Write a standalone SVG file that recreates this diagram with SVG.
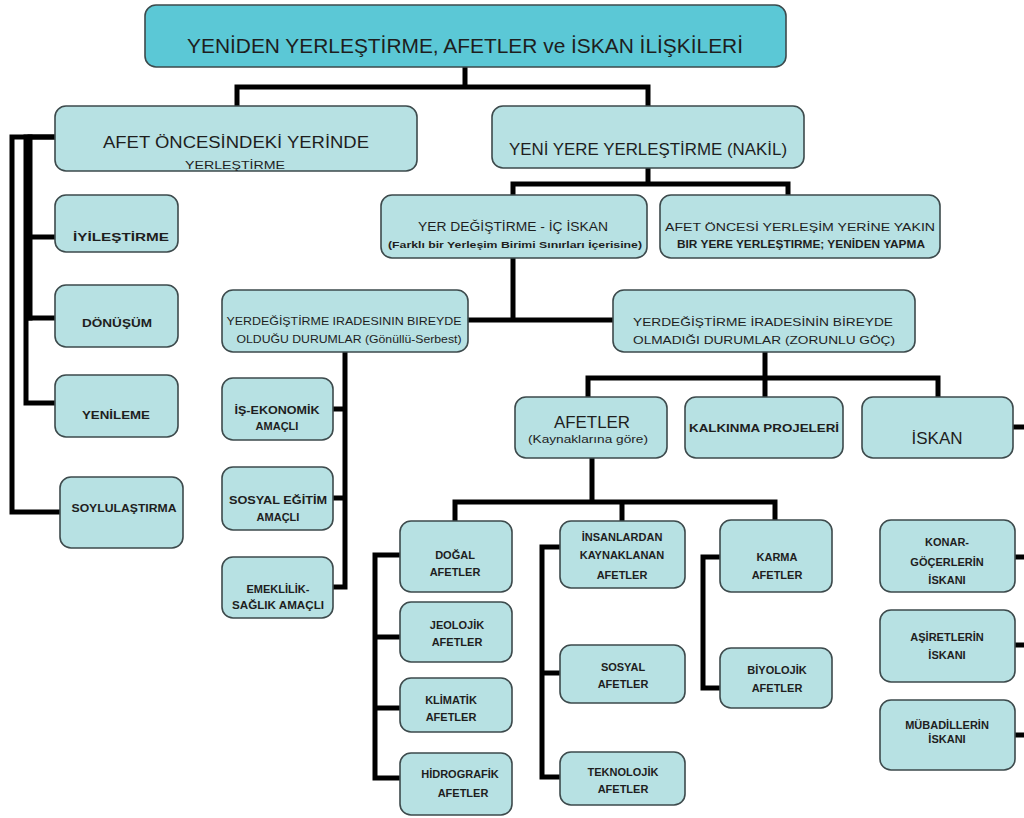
<svg xmlns="http://www.w3.org/2000/svg" width="1024" height="818" viewBox="0 0 1024 818">
<style>
.n{fill:#b7e1e3;stroke:#3d4a4c;stroke-width:1.6}
.t{fill:#5bc8d6;stroke:#3d4a4c;stroke-width:1.6}
text{font-family:"Liberation Sans",Arial,sans-serif;fill:#1e1e1e;text-anchor:middle}
.s{font-size:11px;font-weight:bold}
.m{font-size:11.5px}
.l{font-size:16px}
.c{fill:none;stroke:#000;stroke-width:5;stroke-linejoin:miter;stroke-linecap:square}
</style>
<rect width="1024" height="818" fill="#fff"/>
<g id="connectors" class="c">
<path d="M465 68V87H237V106M465 87H648V106"/>
<path d="M648 168V184H513V195M648 184H788V195"/>
<path d="M55 137H12V512H60"/>
<path d="M55 137H26V403H55M26 237H55M26 318H55"/>
<path d="M30 137V318"/>
<path d="M513 258V320H468M513 320H613"/>
<path d="M345 352V587H334M345 409H334M345 498H334"/>
<path d="M765 352V378H588V397M765 378V397M765 378H938V397"/>
<path d="M1013 427H1024"/>
<path d="M592 459V502H455V521M592 502H622V521M592 502H775V521"/>
<path d="M400 555H375V778H400M375 637H400M375 708H400"/>
<path d="M560 547H542V777H560M542 673H560"/>
<path d="M720 557H703V688H720"/>
<path d="M1015 557H1024M1015 645H1024M1015 735H1024"/>
</g>
<g id="title"><rect class="t" x="145" y="5" width="641" height="62" rx="11"/><text x="465" y="53" style="font-size:19.5px" textLength="556" lengthAdjust="spacingAndGlyphs">YENİDEN YERLEŞTİRME, AFETLER ve İSKAN İLİŞKİLERİ</text></g>
<g id="yerinde"><rect class="n" x="55" y="106" width="362" height="65" rx="11"/><text class="l" x="236" y="148" textLength="266" lengthAdjust="spacingAndGlyphs">AFET  ÖNCESİNDEKİ YERİNDE</text><text x="235" y="169" style="font-size:11px" textLength="100" lengthAdjust="spacingAndGlyphs">YERLEŞTİRME</text></g>
<g id="nakil"><rect class="n" x="492" y="106" width="312" height="62" rx="11"/><text class="l" x="648" y="155" textLength="278" lengthAdjust="spacingAndGlyphs">YENİ YERE YERLEŞTİRME (NAKİL)</text></g>
<g id="iyilestirme"><rect class="n" x="55" y="195" width="123" height="57" rx="11"/><text class="s" x="121" y="241" textLength="96" lengthAdjust="spacingAndGlyphs">İYİLEŞTİRME</text></g>
<g id="donusum"><rect class="n" x="55" y="285" width="123" height="62" rx="11"/><text class="s" x="117" y="327" textLength="70" lengthAdjust="spacingAndGlyphs">DÖNÜŞÜM</text></g>
<g id="yenileme"><rect class="n" x="55" y="375" width="123" height="62" rx="11"/><text class="s" x="116" y="419" textLength="68" lengthAdjust="spacingAndGlyphs">YENİLEME</text></g>
<g id="soylulastirma"><rect class="n" x="60" y="477" width="123" height="71" rx="11"/><text class="s" x="124" y="512" textLength="105" lengthAdjust="spacingAndGlyphs">SOYLULAŞTIRMA</text></g>
<g id="icIskan"><rect class="n" x="381" y="195" width="266" height="63" rx="11"/><text x="513" y="231" style="font-size:12.5px" textLength="190" lengthAdjust="spacingAndGlyphs">YER DEĞİŞTİRME - İÇ  İSKAN</text><text x="515" y="248" style="font-size:9.5px;font-weight:bold" textLength="254" lengthAdjust="spacingAndGlyphs">(Farklı bir Yerleşim Birimi Sınırları İçerisine)</text></g>
<g id="yakin"><rect class="n" x="660" y="195" width="280" height="63" rx="11"/><text x="800" y="231" style="font-size:11.5px" textLength="270" lengthAdjust="spacingAndGlyphs">AFET ÖNCESİ  YERLEŞİM YERİNE YAKIN</text><text x="801" y="248" style="font-size:10px;font-weight:bold" textLength="248" lengthAdjust="spacingAndGlyphs">BIR YERE YERLEŞTIRME; YENİDEN YAPMA</text></g>
<g id="gonullu"><rect class="n" x="222" y="290" width="246" height="62" rx="11"/><text x="344" y="325" style="font-size:10.5px" textLength="235" lengthAdjust="spacingAndGlyphs">YERDEĞİŞTİRME IRADESININ BIREYDE</text><text x="349" y="343" style="font-size:10.5px" textLength="225" lengthAdjust="spacingAndGlyphs">OLDUĞU DURUMLAR (Gönüllü-Serbest)</text></g>
<g id="zorunlu"><rect class="n" x="613" y="290" width="302" height="62" rx="11"/><text class="m" x="763" y="326" textLength="260" lengthAdjust="spacingAndGlyphs">YERDEĞİŞTİRME İRADESİNİN BİREYDE</text><text class="m" x="764" y="344" textLength="262" lengthAdjust="spacingAndGlyphs">OLMADIĞI DURUMLAR (ZORUNLU GÖÇ)</text></g>
<g id="isEkonomik"><rect class="n" x="222" y="378" width="111" height="62" rx="11"/><text class="s" x="277" y="414" textLength="85" lengthAdjust="spacingAndGlyphs">İŞ-EKONOMİK</text><text class="s" x="277" y="430">AMAÇLI</text></g>
<g id="sosyalEgitim"><rect class="n" x="222" y="467" width="111" height="63" rx="11"/><text class="s" x="278" y="504" textLength="98" lengthAdjust="spacingAndGlyphs">SOSYAL EĞİTİM</text><text class="s" x="278" y="521">AMAÇLI</text></g>
<g id="emeklilik"><rect class="n" x="222" y="557" width="111" height="61" rx="11"/><text class="s" x="278" y="593">EMEKLİLİK-</text><text class="s" x="278" y="609" textLength="92" lengthAdjust="spacingAndGlyphs">SAĞLIK AMAÇLI</text></g>
<g id="afetler"><rect class="n" x="515" y="397" width="152" height="61" rx="11"/><text x="592" y="428" style="font-size:17px" textLength="76" lengthAdjust="spacingAndGlyphs">AFETLER</text><text x="588" y="443" style="font-size:10.5px" textLength="120" lengthAdjust="spacingAndGlyphs">(Kaynaklarına göre)</text></g>
<g id="kalkinma"><rect class="n" x="685" y="397" width="158" height="61" rx="11"/><text class="s" x="764" y="432" textLength="150" lengthAdjust="spacingAndGlyphs">KALKINMA PROJELERİ</text></g>
<g id="iskan"><rect class="n" x="862" y="397" width="151" height="61" rx="11"/><text x="937" y="444" style="font-size:17px">İSKAN</text></g>
<g id="dogal"><rect class="n" x="400" y="521" width="112" height="71" rx="11"/><text class="s" x="455" y="559">DOĞAL</text><text class="s" x="455" y="576">AFETLER</text></g>
<g id="jeolojik"><rect class="n" x="400" y="602" width="112" height="60" rx="11"/><text class="s" x="457" y="629">JEOLOJİK</text><text class="s" x="457" y="646">AFETLER</text></g>
<g id="klimatik"><rect class="n" x="400" y="678" width="112" height="54" rx="11"/><text class="s" x="451" y="704">KLİMATİK</text><text class="s" x="451" y="721">AFETLER</text></g>
<g id="hidrografik"><rect class="n" x="400" y="753" width="112" height="62" rx="11"/><text class="s" x="460" y="778">HİDROGRAFİK</text><text class="s" x="463" y="797">AFETLER</text></g>
<g id="insan"><rect class="n" x="560" y="521" width="125" height="67" rx="11"/><text class="s" x="622" y="541">İNSANLARDAN</text><text class="s" x="622" y="559">KAYNAKLANAN</text><text class="s" x="622" y="579">AFETLER</text></g>
<g id="sosyal"><rect class="n" x="560" y="645" width="125" height="58" rx="11"/><text class="s" x="623" y="671">SOSYAL</text><text class="s" x="623" y="688">AFETLER</text></g>
<g id="teknolojik"><rect class="n" x="560" y="752" width="125" height="53" rx="11"/><text class="s" x="623" y="776">TEKNOLOJİK</text><text class="s" x="623" y="793">AFETLER</text></g>
<g id="karma"><rect class="n" x="720" y="520" width="112" height="72" rx="11"/><text class="s" x="777" y="561">KARMA</text><text class="s" x="777" y="579">AFETLER</text></g>
<g id="biyolojik"><rect class="n" x="720" y="648" width="112" height="60" rx="11"/><text class="s" x="777" y="674">BİYOLOJİK</text><text class="s" x="777" y="692">AFETLER</text></g>
<g id="konar"><rect class="n" x="880" y="520" width="135" height="72" rx="11"/><text class="s" x="947" y="546">KONAR-</text><text class="s" x="947" y="566">GÖÇERLERİN</text><text class="s" x="947" y="584">İSKANI</text></g>
<g id="asiret"><rect class="n" x="880" y="610" width="135" height="72" rx="11"/><text class="s" x="947" y="641">AŞİRETLERİN</text><text class="s" x="947" y="659">İSKANI</text></g>
<g id="mubadil"><rect class="n" x="880" y="700" width="135" height="70" rx="11"/><text class="s" x="947" y="729">MÜBADİLLERİN</text><text class="s" x="947" y="743">İSKANI</text></g>
</svg>
